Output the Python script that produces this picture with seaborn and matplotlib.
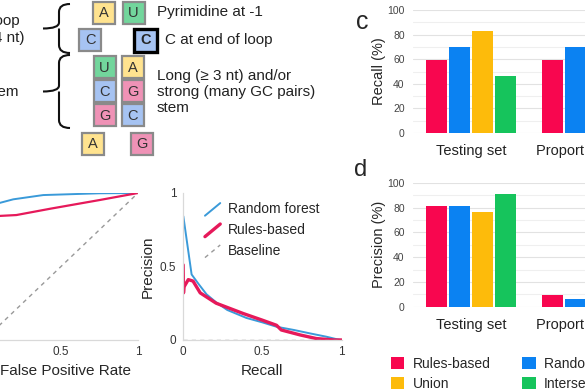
import numpy as np
import pandas as pd
import matplotlib
matplotlib.use('Agg')
import matplotlib.pyplot as plt
from matplotlib.patches import Rectangle, PathPatch
from matplotlib.path import Path
from matplotlib.lines import Line2D
from matplotlib.legend_handler import HandlerLine2D
import seaborn as sns

W, H = 585, 390

# ROC curves
roc_rf_fpr = [0, 0.01, 0.03, 0.06, 0.10, 0.19, 0.385, 0.75, 1.0]
roc_rf_tpr = [0, 0.55, 0.76, 0.88, 0.932, 0.957, 0.986, 0.998, 1.0]
roc_rb_fpr = [0, 0.02, 0.05, 0.10, 0.21, 0.43, 0.75, 1.0]
roc_rb_tpr = [0, 0.60, 0.80, 0.844, 0.85, 0.893, 0.952, 1.0]

# precision-recall curves
pr_rf_recall = [0.004, 0.056, 0.10, 0.15, 0.21, 0.28, 0.40, 0.50, 0.59, 0.70, 0.80, 0.905, 0.97, 1.0]
pr_rf_prec = [0.84, 0.445, 0.38, 0.31, 0.256, 0.204, 0.15, 0.12, 0.09, 0.068, 0.045, 0.022, 0.005, 0.0]
pr_rb_recall = [0.003, 0.005, 0.008, 0.035, 0.065, 0.11, 0.21, 0.38, 0.50, 0.59, 0.62, 0.74, 0.84, 0.95, 1.0]
pr_rb_prec = [0.51, 0.32, 0.36, 0.41, 0.40, 0.32, 0.25, 0.18, 0.135, 0.10, 0.068, 0.034, 0.01, 0.0, 0.0]

# bar panels
sets = ['Testing set', 'Proportional set']
methods = ['Rules-based', 'Random forest', 'Union', 'Intersection']
recall_testing = [59.5, 70, 83, 46.5]
recall_prop = [59.5, 70, 83, 46.5]
precision_testing = [81.2, 81.2, 76.4, 90.6]
precision_prop = [9.7, 6.0, 5.0, 13.0]

bar_colors = ['#f8064f', '#0b82f2', '#fdbb0b', '#16c45c']
rf_line = '#3a9ad9'
rb_line = '#e6195a'

sns.set_style('white')
plt.rcParams['font.family'] = ['Liberation Sans', 'DejaVu Sans']

fig = plt.figure(figsize=(W / 100, H / 100), dpi=100)


def px_axes(left, top, right, bottom):
    return fig.add_axes([left / W, 1 - bottom / H, (right - left) / W, (bottom - top) / H])


# ---- schematic (a) ----
ov = fig.add_axes([0, 0, 1, 1])
ov.set_xlim(0, W)
ov.set_ylim(H, 0)
ov.axis('off')

box_fill = {'A': '#ffe38f', 'U': '#72d69c', 'C': '#a6c3f2', 'G': '#ef92b6'}
boxes = [('A', 103.5, 12.5), ('U', 133.5, 12.5), ('C', 90, 40),
         ('U', 104.5, 67), ('A', 132.5, 67), ('C', 104.5, 91), ('G', 132.5, 91),
         ('G', 104.5, 115), ('C', 132.5, 115), ('A', 92.5, 144), ('G', 142, 144)]
for letter, cx, cy in boxes:
    ov.add_patch(Rectangle((cx - 11, cy - 11), 22, 22, facecolor=box_fill[letter],
                           edgecolor='#8a8a8a', lw=1.6))
    ov.text(cx, cy + 0.5, letter, ha='center', va='center', fontsize=10.5, color='#333')
ov.add_patch(Rectangle((145.5 - 11.5, 40 - 11.5), 23, 23, facecolor=box_fill['C'],
                       edgecolor='black', lw=2.4))
ov.text(145.5, 40.5, 'C', ha='center', va='center', fontsize=10.5, fontweight='bold')


def brace(xr, xv, xt, ytop, ybot):
    ym = (ytop + ybot) / 2
    verts = [(xr, ytop), (xv, ytop), (xv, ytop + 8), (xv, ym - 6), (xv, ym), (xt, ym),
             (xv, ym), (xv, ym + 6), (xv, ybot - 8), (xv, ybot), (xr, ybot)]
    codes = [Path.MOVETO, Path.CURVE3, Path.CURVE3, Path.LINETO, Path.CURVE3, Path.CURVE3,
             Path.MOVETO, Path.CURVE3, Path.LINETO, Path.CURVE3, Path.CURVE3]
    ov.add_patch(PathPatch(Path(verts, codes), fill=False, lw=1.5, color='#111'))


brace(70, 59, 43, 4, 53)
brace(70, 59, 43, 55, 128)

txt = dict(fontsize=11, color='#222', va='center')
ov.text(157, 12, 'Pyrimidine at -1', **txt)
ov.text(165, 40, 'C at end of loop', **txt)
ov.text(157, 76, 'Long (\u2265 3 nt) and/or', **txt)
ov.text(157, 92, 'strong (many GC pairs)', **txt)
ov.text(157, 108, 'stem', **txt)
ov.text(20, 21, 'Loop', ha='right', **txt)
ov.text(25, 38, '(\u2264 4 nt)', ha='right', **txt)
ov.text(18.5, 92, 'Stem', ha='right', **txt)
ov.text(362, 22, 'c', fontsize=18, ha='center', va='center')
ov.text(361, 170, 'd', fontsize=17, ha='center', va='center')


def curve_axes(ax):
    for s in ['top', 'right']:
        ax.spines[s].set_visible(False)
    for s in ['left', 'bottom']:
        ax.spines[s].set_color('#d9d9d9')
        ax.spines[s].set_linewidth(0.9)
    ax.set_xlim(0, 1)
    ax.set_ylim(0, 1)
    ax.set_xticks([0, 0.5, 1])
    ax.set_xticklabels(['0', '0.5', '1'])
    ax.set_yticks([0, 0.5, 1])
    ax.set_yticklabels(['0', '0.5', '1'])
    ax.tick_params(length=0, labelsize=8.5, labelcolor='#333', pad=4.5)


# ---- ROC ----
ax_roc = px_axes(-16, 193, 138, 340)
sns.lineplot(x=roc_rf_fpr, y=roc_rf_tpr, sort=False, estimator=None, color=rf_line, lw=1.4, ax=ax_roc)
sns.lineplot(x=roc_rb_fpr, y=roc_rb_tpr, sort=False, estimator=None, color=rb_line, lw=1.6, ax=ax_roc)
ax_roc.plot([0, 1], [0, 1], ls=(0, (3, 3)), color='#999999', lw=1.0)
curve_axes(ax_roc)
ax_roc.set_xlabel('False Positive Rate', fontsize=11, labelpad=4)
ax_roc.xaxis.set_label_coords(0.53, -0.16)
ax_roc.set_ylabel('True Positive Rate', fontsize=11)


# ---- Precision-recall ----
class SlantHandler(HandlerLine2D):
    def create_artists(self, legend, orig_handle, xdescent, ydescent, width, height, fontsize, trans):
        line = Line2D([-xdescent, -xdescent + width], [-ydescent - 0.25 * height, -ydescent + 1.05 * height])
        self.update_prop(line, orig_handle, legend)
        line.set_transform(trans)
        return [line]


ax_pr = px_axes(182.7, 192.7, 341.7, 340)
sns.lineplot(x=pr_rf_recall, y=pr_rf_prec, sort=False, estimator=None, color=rf_line, lw=1.4,
             ax=ax_pr, label='Random forest')
sns.lineplot(x=pr_rb_recall, y=pr_rb_prec, sort=False, estimator=None, color=rb_line, lw=2.4,
             ax=ax_pr, label='Rules-based')
ax_pr.plot([0, 1], [0.003, 0.003], ls=(0, (3, 3)), color='#999999', lw=1.0, label='Baseline')
curve_axes(ax_pr)
ax_pr.set_xlabel('Recall', fontsize=11, labelpad=4)
ax_pr.set_ylabel('Precision', fontsize=11, labelpad=4)
hl, lb = ax_pr.get_legend_handles_labels()
ax_pr.legend(hl, lb, loc='upper left', bbox_to_anchor=(0.14, 0.935), frameon=False, fontsize=10,
             handlelength=1.1, handletextpad=0.55, labelspacing=0.5, borderpad=0, borderaxespad=0,
             handler_map={Line2D: SlantHandler()})


# ---- bar panels ----
def bar_panel(ax, values_a, values_b, ylabel, legend):
    df = pd.DataFrame({'set': [sets[0]] * 4 + [sets[1]] * 4,
                       'method': methods * 2,
                       'value': list(values_a) + list(values_b)})
    sns.barplot(data=df, x='set', y='value', hue='method', hue_order=methods, palette=bar_colors,
                saturation=1, gap=0.1, linewidth=0, ax=ax, legend=legend)
    ax.set_xlim(-0.5, 1.5)
    ax.set_ylim(0, 100)
    ax.set_yticks(range(0, 101, 20))
    ax.set_yticks(range(10, 100, 20), minor=True)
    ax.grid(True, which='major', axis='y', color='#e2e2e2', lw=0.8)
    ax.grid(True, which='minor', axis='y', color='#efefef', lw=0.8)
    ax.set_axisbelow(True)
    sns.despine(ax=ax, left=True, bottom=True)
    ax.tick_params(axis='y', length=0, labelsize=7.5, labelcolor='#444', pad=6)
    ax.tick_params(axis='x', length=0, labelsize=10.5, labelcolor='#222', pad=8)
    ax.tick_params(axis='y', which='minor', length=0)
    ax.set_xlabel('')
    ax.set_ylabel(ylabel, fontsize=10.5, labelpad=1)


ax_c = px_axes(413, 10, 645, 133)
bar_panel(ax_c, recall_testing, recall_prop, 'Recall (%)', False)
ax_d = px_axes(413, 182.7, 645, 306.7)
bar_panel(ax_d, precision_testing, precision_prop, 'Precision (%)', True)

hb, lbb = ax_d.get_legend_handles_labels()
ax_d.get_legend().remove()
order = [0, 2, 1, 3]
fig.legend([hb[i] for i in order], [lbb[i] for i in order], ncol=2, loc='upper left',
           bbox_to_anchor=(391 / W, 1 - 357 / H), frameon=False, fontsize=10,
           handlelength=0.95, handleheight=0.95, handletextpad=0.6, columnspacing=2.3,
           labelspacing=0.4, borderpad=0, borderaxespad=0)

fig.savefig('out.png', dpi=100)
